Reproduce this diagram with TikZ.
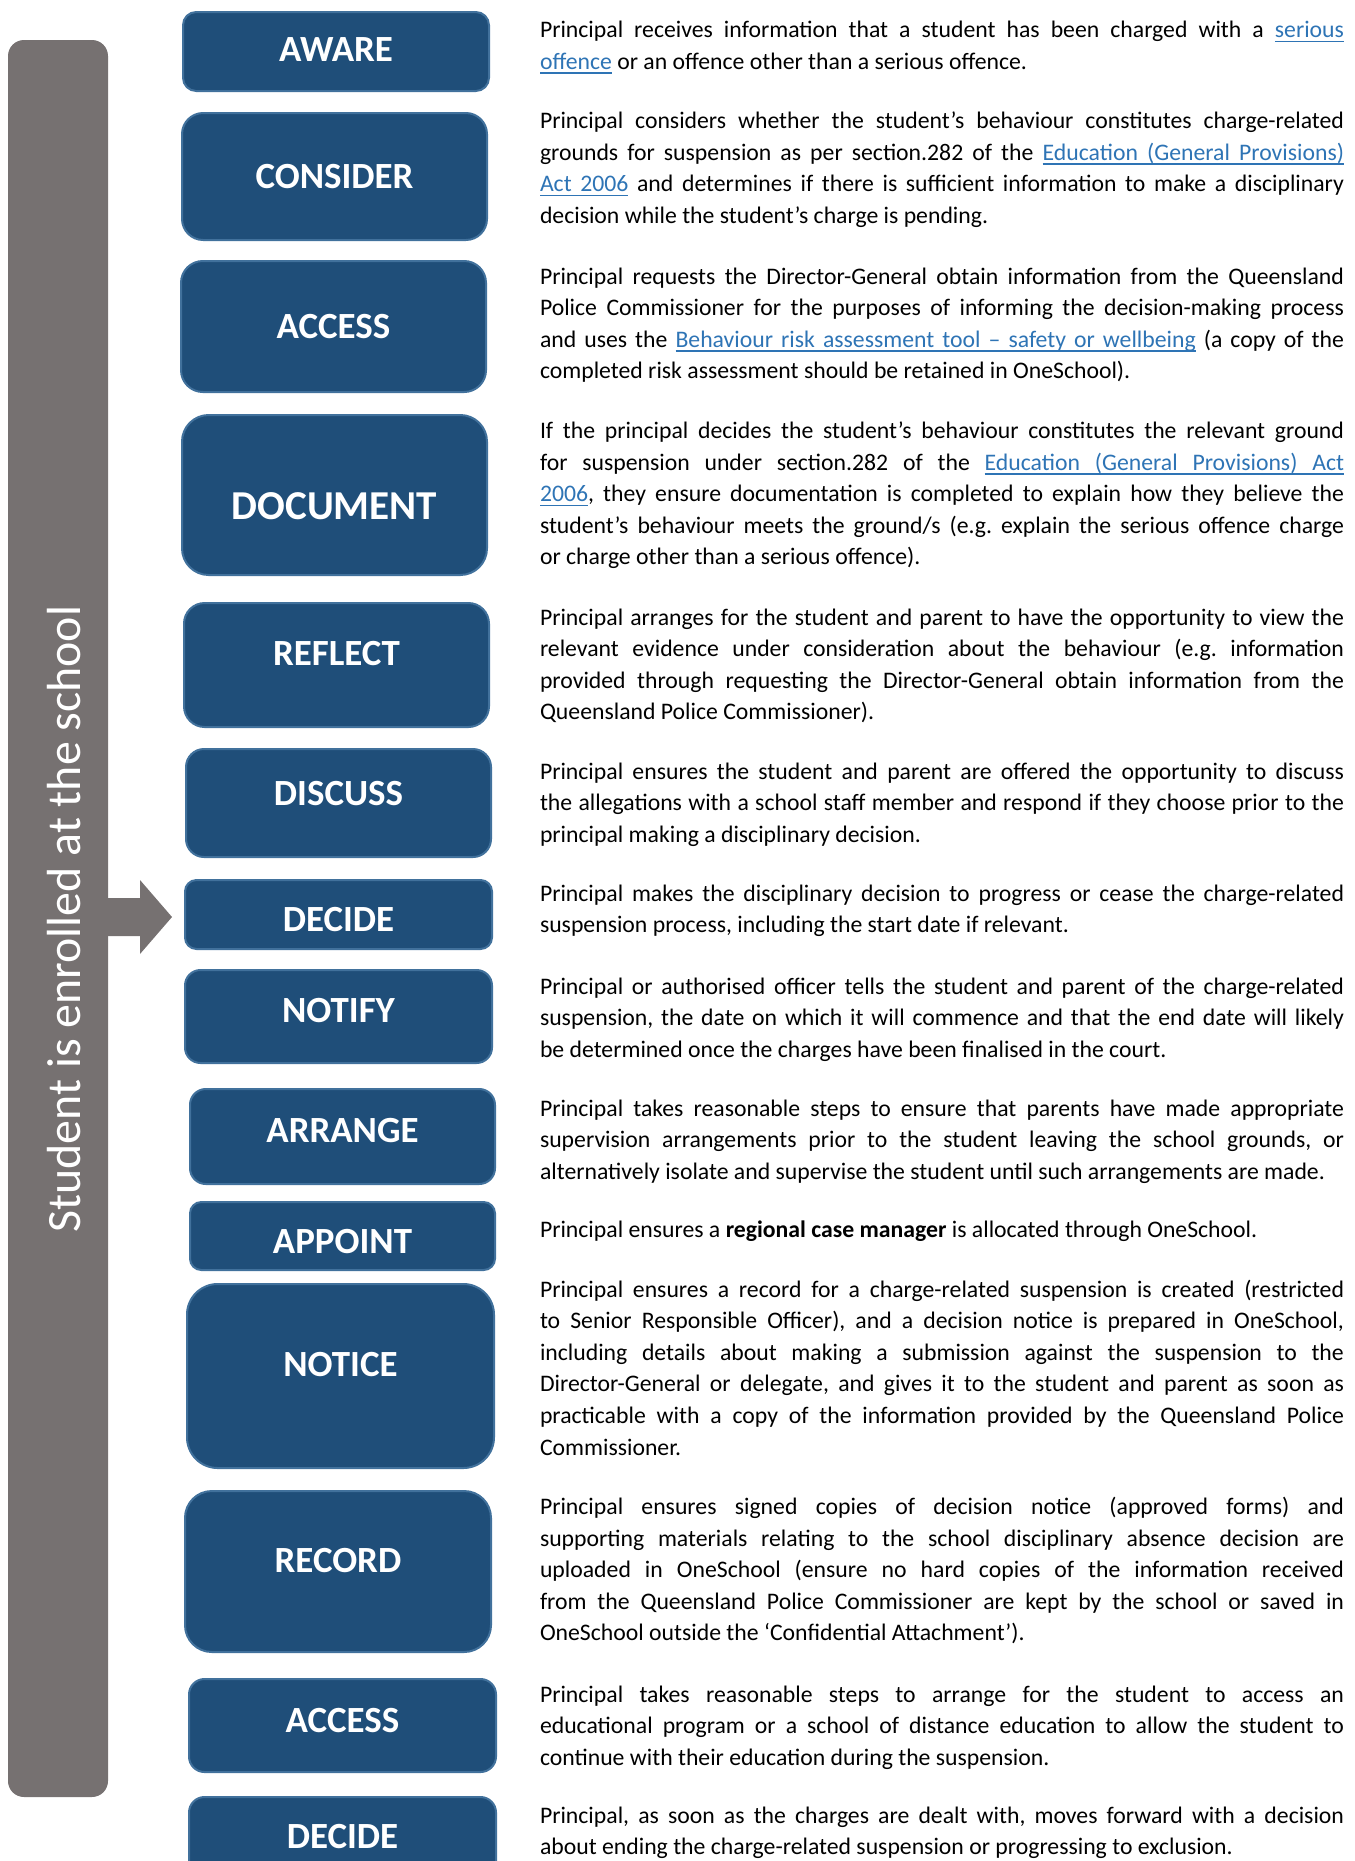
\documentclass[tikz,border=0pt]{standalone}
\usepackage{fontspec}
\setmainfont{Carlito}
\definecolor{boxblue}{HTML}{1F4E79}
\definecolor{boxedge}{HTML}{41719C}
\definecolor{barg}{HTML}{767171}
\definecolor{linkc}{HTML}{2E74B5}
\newlength{\colw}\setlength{\colw}{603pt}
\newcommand{\jl}[1]{\hbox to\colw{#1}}
\newcommand{\nl}[1]{\hbox{#1}}
\newcommand{\ulw}[1]{\setbox0\hbox{#1}\rlap{\rule[-3.3pt]{\wd0}{1.1pt}}\box0}
\newcommand{\ulsp}{\leaders\hrule height -2.2pt depth 3.3pt\hskip\fontdimen2\font plus\fontdimen3\font minus\fontdimen4\font\relax}
\newcommand{\lk}[1]{\textcolor{linkc}{#1}}
\newcommand{\bodyfont}{\fontsize{17.8}{23.7}\selectfont\frenchspacing}
\newcommand{\para}[3]{\node[parasty] (#1) at (540,#2) {\vtop{\bodyfont #3}};}
\newcommand{\stepbx}[7]{%
  \pgfmathsetmacro{\rr}{(#4-#2)*0.75/6}%
  \draw[boxsty, rounded corners=\rr pt] (#1,#2) rectangle (#3,#4);%
  \node[labsty] (#7) at ({(#1+#3)/2},#5) {#6};%
}
\begin{document}
\begin{tikzpicture}[x=0.75pt,y=-0.75pt,
  boxsty/.style={fill=boxblue, draw=boxedge, line width=1.5pt},
  labsty/.style={text=white, inner sep=0pt, font=\fontsize{27.7}{30}\selectfont\bfseries},
  parasty/.style={anchor=base west, inner sep=0pt, outer sep=0pt, text=black},
  vtext/.style={rotate=90, anchor=base, inner sep=0pt, text=white, font=\fontsize{35.9}{40}\selectfont}]
\path[use as bounding box] (0,0) rectangle (1355,1861);
\clip (0,0) rectangle (1355,1861);
% side bar and arrow
\fill[barg, rounded corners=12pt] (8,40) rectangle (108,1797);
\fill[barg] (105,898) -- (140,898) -- (140,880) -- (172,917) -- (140,954) -- (140,936) -- (105,936) -- cycle;
\node[vtext] (enr) at (80,919) {Student is enrolled at the school};
% step boxes
\stepbx{183}{12}{489}{91}{50}{AWARE}{s1}
\stepbx{182}{113}{487}{240}{176.5}{CONSIDER}{s2}
\stepbx{181}{261}{486}{392}{327}{ACCESS}{s3}
\stepbx{182}{415}{487}{575}{506}{{\fontsize{30.8}{32}\selectfont DOCUMENT}}{s4}
\stepbx{184}{603}{489}{727}{654}{REFLECT}{s5}
\stepbx{186}{749}{491}{857}{794}{DISCUSS}{s6}
\stepbx{185}{880}{492}{949}{919.5}{DECIDE}{s7}
\stepbx{185}{970}{492}{1063}{1010.5}{NOTIFY}{s8}
\stepbx{190}{1089}{495}{1184}{1130}{ARRANGE}{s9}
\stepbx{190}{1202}{495}{1270}{1241}{APPOINT}{s10}
\stepbx{187}{1284}{494}{1468}{1364}{NOTICE}{s11}
\stepbx{185}{1491}{491}{1652}{1560}{RECORD}{s12}
\stepbx{189}{1679}{496}{1772}{1720}{ACCESS}{s13}
\stepbx{189}{1797}{496}{1890}{1836.5}{DECIDE}{s14}
% descriptions
\para{p1}{37.7}{%
\jl{Principal receives information that a student has been charged with a \lk{\ulw{serious}}}%
\nl{\lk{\ulw{offence}} or an offence other than a serious offence.}}
\para{p2}{128.5}{%
\jl{Principal considers whether the student’s behaviour constitutes charge-related}%
\jl{grounds for suspension as per section.282 of the \lk{\ulw{Education}\ulsp\ulw{(General}\ulsp\ulw{Provisions)}}}%
\jl{\lk{\ulw{Act}\ulsp\ulw{2006}} and determines if there is sufficient information to make a disciplinary}%
\nl{decision while the student’s charge is pending.}}
\para{p3}{284}{%
\jl{Principal requests the Director-General obtain information from the Queensland}%
\jl{Police Commissioner for the purposes of informing the decision-making process}%
\jl{and uses the \lk{\ulw{Behaviour}\ulsp\ulw{risk}\ulsp\ulw{assessment}\ulsp\ulw{tool}\ulsp\ulw{–}\ulsp\ulw{safety}\ulsp\ulw{or}\ulsp\ulw{wellbeing}} (a copy of the}%
\nl{completed risk assessment should be retained in OneSchool).}}
\para{p4}{438.5}{%
\jl{If the principal decides the student’s behaviour constitutes the relevant ground}%
\jl{for suspension under section.282 of the \lk{\ulw{Education}\ulsp\ulw{(General}\ulsp\ulw{Provisions)}\ulsp\ulw{Act}}}%
\jl{\lk{\ulw{2006}}, they ensure documentation is completed to explain how they believe the}%
\jl{student’s behaviour meets the ground/s (e.g. explain the serious offence charge}%
\nl{or charge other than a serious offence).}}
\para{p5}{625}{%
\jl{Principal arranges for the student and parent to have the opportunity to view the}%
\jl{relevant evidence under consideration about the behaviour (e.g. information}%
\jl{provided through requesting the Director-General obtain information from the}%
\nl{Queensland Police Commissioner).}}
\para{p6}{779}{%
\jl{Principal ensures the student and parent are offered the opportunity to discuss}%
\jl{the allegations with a school staff member and respond if they choose prior to the}%
\nl{principal making a disciplinary decision.}}
\para{p7}{901}{%
\jl{Principal makes the disciplinary decision to progress or cease the charge-related}%
\nl{suspension process, including the start date if relevant.}}
\para{p8}{994}{%
\jl{Principal or authorised officer tells the student and parent of the charge-related}%
\jl{suspension, the date on which it will commence and that the end date will likely}%
\nl{be determined once the charges have been finalised in the court.}}
\para{p9}{1116}{%
\jl{Principal takes reasonable steps to ensure that parents have made appropriate}%
\jl{supervision arrangements prior to the student leaving the school grounds, or}%
\nl{alternatively isolate and supervise the student until such arrangements are made.}}
\para{p10}{1237.3}{%
\nl{Principal ensures a \textbf{regional case manager} is allocated through OneSchool.}}
\para{p11}{1297}{%
\jl{Principal ensures a record for a charge-related suspension is created (restricted}%
\jl{to Senior Responsible Officer), and a decision notice is prepared in OneSchool,}%
\jl{including details about making a submission against the suspension to the}%
\jl{Director-General or delegate, and gives it to the student and parent as soon as}%
\jl{practicable with a copy of the information provided by the Queensland Police}%
\nl{Commissioner.}}
\para{p12}{1514.5}{%
\jl{Principal ensures signed copies of decision notice (approved forms) and}%
\jl{supporting materials relating to the school disciplinary absence decision are}%
\jl{uploaded in OneSchool (ensure no hard copies of the information received}%
\jl{from the Queensland Police Commissioner are kept by the school or saved in}%
\nl{OneSchool outside the ‘Confidential Attachment’).}}
\para{p13}{1702}{%
\jl{Principal takes reasonable steps to arrange for the student to access an}%
\jl{educational program or a school of distance education to allow the student to}%
\nl{continue with their education during the suspension.}}
\para{p14}{1823}{%
\jl{Principal, as soon as the charges are dealt with, moves forward with a decision}%
\nl{about ending the charge-related suspension or progressing to exclusion.}}
\end{tikzpicture}
\end{document}
